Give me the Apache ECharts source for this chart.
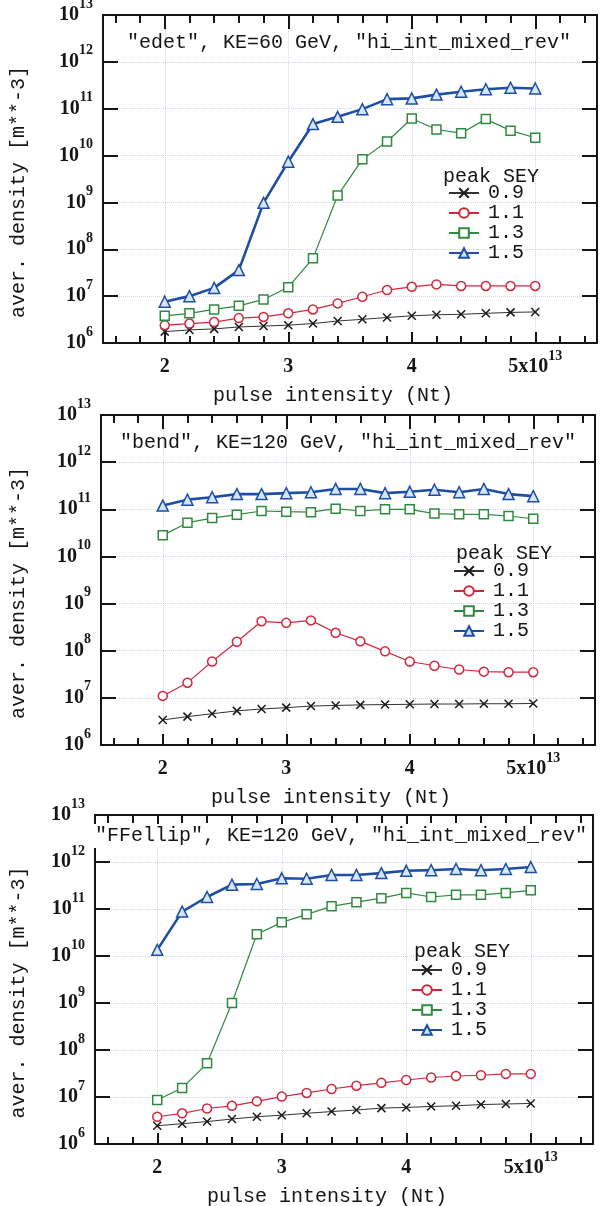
<!DOCTYPE html>
<html>
<head>
<meta charset="utf-8">
<title>aver. density vs pulse intensity</title>
<script src="https://cdn.jsdelivr.net/npm/echarts@6/dist/echarts.min.js"></script>
<style>
  html, body { margin: 0; padding: 0; background: #fff; }
  #chart { width: 600px; height: 1206px; }
</style>
</head>
<body>
<div id="chart"></div>
<script>
// pulse intensity, units of 1e13
const pulse = [2.0, 2.2, 2.4, 2.6, 2.8, 3.0, 3.2, 3.4, 3.6, 3.8, 4.0, 4.2, 4.4, 4.6, 4.8, 5.0];
const xMajor = [2, 3, 4, 5];
const xMinor = [1.6, 1.8, 2.2, 2.4, 2.6, 2.8, 3.2, 3.4, 3.6, 3.8, 4.2, 4.4, 4.6, 4.8, 5.2, 5.4];
const seyNames = ['0.9', '1.1', '1.3', '1.5'];

// "edet", KE=60 GeV
const edet09 = [1.75e6, 1.9e6, 2.0e6, 2.2e6, 2.3e6, 2.4e6, 2.6e6, 2.95e6, 3.2e6, 3.5e6, 3.8e6, 4.0e6, 4.1e6, 4.3e6, 4.5e6, 4.6e6];
const edet11 = [2.4e6, 2.6e6, 2.8e6, 3.4e6, 3.6e6, 4.3e6, 5.2e6, 7.0e6, 9.7e6, 1.35e7, 1.58e7, 1.78e7, 1.65e7, 1.65e7, 1.65e7, 1.65e7];
const edet13 = [3.8e6, 4.3e6, 5.2e6, 6.2e6, 8.5e6, 1.55e7, 6.4e7, 1.4e9, 8.3e9, 2.0e10, 6.2e10, 3.6e10, 3.0e10, 6.0e10, 3.4e10, 2.4e10];
const edet15 = [7.6e6, 1.0e7, 1.5e7, 3.6e7, 9.8e8, 7.4e9, 4.7e10, 6.7e10, 9.8e10, 1.6e11, 1.66e11, 2.0e11, 2.3e11, 2.6e11, 2.8e11, 2.7e11];

// "bend", KE=120 GeV
const bend09 = [3.4e6, 4.0e6, 4.6e6, 5.3e6, 5.8e6, 6.2e6, 6.7e6, 6.9e6, 7.1e6, 7.2e6, 7.3e6, 7.4e6, 7.4e6, 7.5e6, 7.5e6, 7.6e6];
const bend11 = [1.1e7, 2.1e7, 5.9e7, 1.55e8, 4.2e8, 3.9e8, 4.4e8, 2.4e8, 1.58e8, 9.7e7, 5.9e7, 4.8e7, 4.0e7, 3.6e7, 3.5e7, 3.5e7];
const bend13 = [2.8e10, 5.2e10, 6.5e10, 7.7e10, 9.2e10, 8.9e10, 8.7e10, 1.03e11, 9.2e10, 1.0e11, 1.0e11, 8.1e10, 7.8e10, 7.8e10, 7.2e10, 6.3e10];
const bend15 = [1.2e11, 1.6e11, 1.8e11, 2.1e11, 2.1e11, 2.2e11, 2.3e11, 2.7e11, 2.7e11, 2.2e11, 2.35e11, 2.6e11, 2.3e11, 2.7e11, 2.1e11, 1.9e11];

// "FFellip", KE=120 GeV
const ffel09 = [2.45e6, 2.7e6, 3.0e6, 3.4e6, 3.8e6, 4.1e6, 4.5e6, 4.9e6, 5.3e6, 5.8e6, 6.0e6, 6.3e6, 6.5e6, 6.9e6, 7.1e6, 7.3e6];
const ffel11 = [3.8e6, 4.5e6, 5.7e6, 6.5e6, 8.1e6, 1.02e7, 1.22e7, 1.48e7, 1.74e7, 2.0e7, 2.3e7, 2.6e7, 2.8e7, 2.9e7, 3.1e7, 3.1e7];
const ffel13 = [8.6e6, 1.55e7, 5.2e7, 1.0e9, 2.9e10, 5.2e10, 7.7e10, 1.14e11, 1.4e11, 1.7e11, 2.2e11, 1.8e11, 2.0e11, 2.0e11, 2.2e11, 2.5e11];
const ffel15 = [1.35e10, 8.8e10, 1.8e11, 3.3e11, 3.4e11, 4.5e11, 4.4e11, 5.3e11, 5.3e11, 5.8e11, 6.5e11, 6.7e11, 7.1e11, 6.7e11, 7.1e11, 7.8e11];

const panels = [
  { title: '"edet", KE=60 GeV, "hi_int_mixed_rev"', values: [edet09, edet11, edet13, edet15],
    grid: { left: 103, top: 15, width: 494, height: 328 }, titlePos: [127, 33],
    head: [443, 167], key: [448, 183], keyStep: 20 },
  { title: '"bend", KE=120 GeV, "hi_int_mixed_rev"', values: [bend09, bend11, bend13, bend15],
    grid: { left: 101, top: 415, width: 494, height: 330 }, titlePos: [120, 433],
    head: [456, 544], key: [453, 561], keyStep: 19 },
  { title: '"FFellip", KE=120 GeV, "hi_int_mixed_rev"', values: [ffel09, ffel11, ffel13, ffel15],
    grid: { left: 95, top: 815, width: 498, height: 329 }, titlePos: [94, 824],
    head: [414, 942], key: [411, 960], keyStep: 20 }
];

// one look per peak SEY
const looks = [
  { symbol: 'path://M0,0L10,10M10,0L0,10', size: 8, line: '#333', width: 1, fill: 'rgba(0,0,0,0)', border: '#1a1a1a' },
  { symbol: 'circle', size: 9, line: '#d3283c', width: 1.2, fill: '#fff', border: '#d3283c' },
  { symbol: 'rect', size: 9, line: '#2e8a3e', width: 1.2, fill: '#fff', border: '#2e8a3e' },
  { symbol: 'triangle', size: 11, line: '#1d4ea5', width: 2.6, fill: '#d6e5f7', border: '#1d4ea5' }
];

const mono = 'Liberation Mono';
const serif = 'Liberation Serif';
const ink = '#151515';
const gridColor = '#cdd5e6';

const richNum = {
  b: { fontFamily: serif, fontSize: 20, fontWeight: 'bold', color: ink, lineHeight: 20 },
  s: { fontFamily: serif, fontSize: 14, fontWeight: 'bold', color: ink, lineHeight: 14, padding: [0, 0, 22, 0] }
};

const grids = [], xAxes = [], yAxes = [], series = [], titles = [], legends = [];

panels.forEach((p, i) => {
  grids.push(Object.assign({ show: false, outerBoundsMode: 'none' }, p.grid));

  // bottom axis: carries data, labels, major ticks and the vertical grid lines
  xAxes.push({
    type: 'value', gridIndex: i, position: 'bottom', min: 1.5, max: 5.5,
    axisLine: { onZero: false, lineStyle: { color: ink, width: 2 } },
    axisTick: { inside: true, length: 11, customValues: xMajor, lineStyle: { color: ink, width: 2 } },
    axisLabel: {
      customValues: xMajor, margin: 14,
      formatter: v => v === 5 ? '{b|5x10}{s|13}' : '{b|' + v + '}',
      rich: richNum
    },
    splitLine: { show: true, lineStyle: { color: gridColor, type: 'dotted', width: 1 } },
    name: 'pulse intensity (Nt)', nameLocation: 'middle', nameGap: 37,
    nameTextStyle: { fontFamily: mono, fontSize: 20, lineHeight: 20, color: ink, padding: [0, 34, 0, 0] }
  });
  // bottom minor ticks
  xAxes.push({
    type: 'value', gridIndex: i, position: 'bottom', min: 1.5, max: 5.5,
    axisLine: { show: false, onZero: false },
    axisTick: { inside: true, length: 7, customValues: xMinor, lineStyle: { color: ink, width: 2 } },
    axisLabel: { show: false }, splitLine: { show: false }
  });
  // top mirror, major + minor
  xAxes.push({
    type: 'value', gridIndex: i, position: 'top', min: 1.5, max: 5.5,
    axisLine: { onZero: false, lineStyle: { color: ink, width: 2 } },
    axisTick: { inside: true, length: 14, customValues: xMajor, lineStyle: { color: ink, width: 2 } },
    axisLabel: { show: false }, splitLine: { show: false }
  });
  xAxes.push({
    type: 'value', gridIndex: i, position: 'top', min: 1.5, max: 5.5,
    axisLine: { show: false, onZero: false },
    axisTick: { inside: true, length: 8, customValues: xMinor, lineStyle: { color: ink, width: 2 } },
    axisLabel: { show: false }, splitLine: { show: false }
  });

  yAxes.push({
    type: 'log', logBase: 10, gridIndex: i, position: 'left', min: 1e6, max: 1e13,
    axisLine: { onZero: false, lineStyle: { color: ink, width: 2 } },
    axisTick: { inside: true, length: 15, lineStyle: { color: ink, width: 2 } },
    axisLabel: {
      margin: 10,
      formatter: v => '{b|10}{s|' + Math.round(Math.log10(v)) + '}',
      rich: richNum
    },
    splitLine: { show: true, lineStyle: { color: gridColor, type: 'dotted', width: 1 } },
    name: 'aver. density [m**-3]', nameLocation: 'middle', nameGap: p.grid.left - 29,
    nameTextStyle: { fontFamily: mono, fontSize: 20, lineHeight: 20, color: ink, padding: [0, 26, 0, 0] }
  });
  yAxes.push({
    type: 'log', logBase: 10, gridIndex: i, position: 'right', min: 1e6, max: 1e13,
    axisLine: { onZero: false, lineStyle: { color: ink, width: 2 } },
    axisTick: { inside: true, length: 15, lineStyle: { color: ink, width: 2 } },
    axisLabel: { show: false }, splitLine: { show: false }
  });

  p.values.forEach((vals, k) => {
    const lk = looks[k];
    series.push({
      name: seyNames[k], type: 'line',
      xAxisIndex: i * 4, yAxisIndex: i * 2,
      data: pulse.map((x, j) => [x, vals[j]]),
      symbol: lk.symbol, symbolSize: lk.size,
      lineStyle: { color: lk.line, width: lk.width },
      itemStyle: { color: lk.fill, borderColor: lk.border, borderWidth: 1.5 },
      emphasis: { disabled: true },
      z: 2 + k
    });
  });

  titles.push({
    text: p.title, left: p.titlePos[0], top: p.titlePos[1],
    padding: i === 2 ? [2, 1] : 0, backgroundColor: i === 2 ? '#fff' : 'transparent',
    textStyle: { fontFamily: mono, fontSize: 20, lineHeight: 20, fontWeight: 'normal', color: ink }
  });
  titles.push({
    text: 'peak SEY', left: p.head[0], top: p.head[1], padding: 0,
    textStyle: { fontFamily: mono, fontSize: 20, lineHeight: 20, fontWeight: 'normal', color: ink }
  });

  legends.push({
    data: seyNames, orient: 'vertical', left: p.key[0], top: p.key[1],
    padding: 0, itemGap: 0, itemWidth: 30, itemHeight: 12, selectedMode: false,
    textStyle: { fontFamily: mono, fontSize: 20, lineHeight: p.keyStep, color: ink, padding: [0, 0, 0, 4] }
  });
});

const chart = echarts.init(document.getElementById('chart'), null, { renderer: 'canvas' });
chart.setOption({
  backgroundColor: '#fff',
  animation: false,
  title: titles,
  legend: legends,
  grid: grids,
  xAxis: xAxes,
  yAxis: yAxes,
  series: series
});
</script>
</body>
</html>
